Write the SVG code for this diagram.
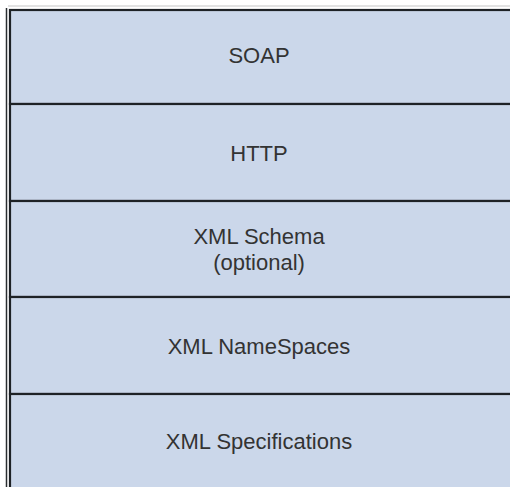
<svg xmlns="http://www.w3.org/2000/svg" width="510" height="487" viewBox="0 0 510 487">
<style>
.layer{fill:#CBD7EA;stroke:#1E2226;stroke-width:2.2}
.t{font-family:"Liberation Sans",Arial,sans-serif;font-size:22px;fill:#333;text-anchor:middle}
</style>
<rect width="510" height="487" fill="#ffffff"/>
<line x1="6.5" y1="8" x2="6.5" y2="487" stroke="#2a2d30" stroke-width="1.5"/>
<line x1="8" y1="6" x2="510" y2="6" stroke="#d8d8d8" stroke-width="1.5"/>
<g id="soap"><rect class="layer" x="10" y="10" width="510" height="94"/><text class="t" x="259" y="63">SOAP</text></g>
<g id="http"><rect class="layer" x="10" y="104" width="510" height="97"/><text class="t" x="259" y="161">HTTP</text></g>
<g id="schema"><rect class="layer" x="10" y="201" width="510" height="96"/><text class="t" x="259" y="244">XML Schema</text><text class="t" x="259" y="270">(optional)</text></g>
<g id="namespaces"><rect class="layer" x="10" y="297" width="510" height="97"/><text class="t" x="259" y="354">XML NameSpaces</text></g>
<g id="specs"><rect class="layer" x="10" y="394" width="510" height="100"/><text class="t" x="259" y="449">XML Specifications</text></g>
<g id="connectors"/>
</svg>
